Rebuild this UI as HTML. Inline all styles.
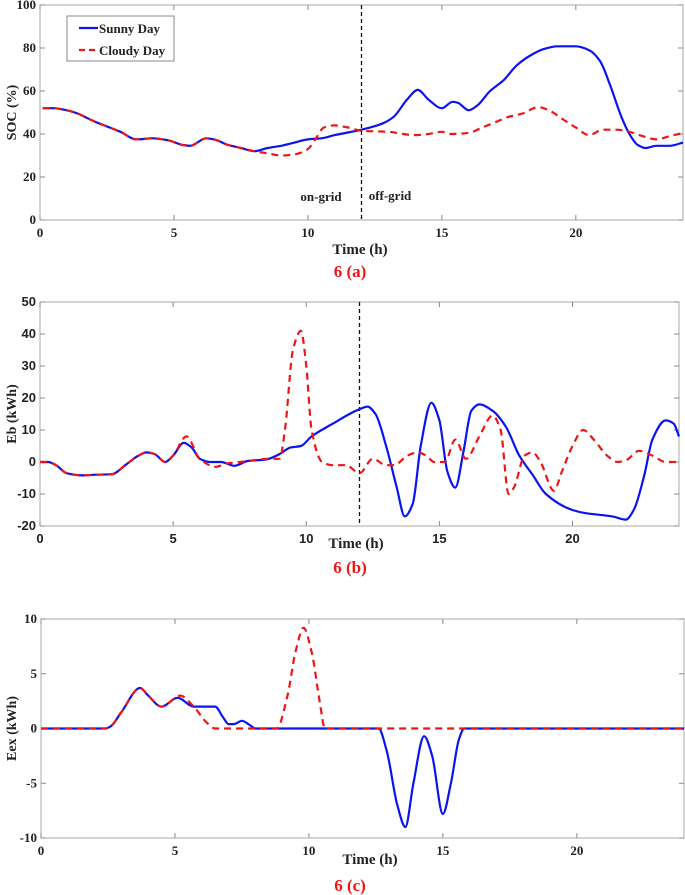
<!DOCTYPE html>
<html><head><meta charset="utf-8"><style>
body{margin:0;background:#fff;width:685px;height:895px;overflow:hidden}
svg{display:block}
text{font-family:"Liberation Serif",serif;font-weight:bold;fill:#222}
</style></head><body>
<svg id="chart" width="685" height="895" viewBox="0 0 685 895" xmlns="http://www.w3.org/2000/svg"></svg>
<script>
const socSunnyT=[0.1,0.5,1,1.3,2,3,3.6,4.2,4.8,5.3,5.6,6.2,6.5,7,7.5,8,8.5,9,9.5,10,10.5,11,12,12.8,13.2,13.7,14.1,14.5,15,15.4,15.6,16,16.3,16.8,17.3,17.8,18.3,18.8,19.3,20,20.5,20.9,21.3,21.7,22,22.3,22.6,23,23.5,24];
const socSunnyV=[52,52,51,50,46,41,37.5,38,37,35,34.5,38,37.5,35,33.5,32,33.5,34.5,36,37.5,38,39.5,42,45,48,56,60.5,56,52,55,54.5,51,53,60,65,72,76.5,79.5,80.8,80.8,79,74,62,48,40,35,33.5,34.5,34.5,36];
const socCloudyT=[0.1,0.5,1,1.3,2,3,3.6,4.2,4.8,5.3,5.6,6.2,6.5,7,7.5,8,8.5,9,9.5,10,10.3,10.6,11,11.5,12,13,14,14.5,15,15.3,16,16.5,17,17.5,18,18.6,19,19.5,20,20.5,21,21.5,22,22.5,23,23.5,24];
const socCloudyV=[52,52,51,50,46,41,37.5,38,37,35,34.5,38,37.5,35,33.5,32,31,30,30.5,33,38,43,44,43,41.5,41,39.5,40,41,40,40.5,43,45.5,48,49.5,52.5,51,47,43,39.5,42,42,41,39,37.5,39,40.5];
const ebSunnyT=[0,0.3,0.6,1,1.6,2,2.7,3.2,3.7,4,4.3,4.7,5,5.4,5.7,6,6.4,6.8,7.3,7.8,8.5,9,9.4,9.8,10.2,11,12,12.3,12.6,13,13.4,13.7,14,14.3,14.7,15,15.3,15.6,15.9,16.2,16.5,17,17.5,18,18.5,19,20,20.5,21.5,22,22.3,22.7,23,23.5,23.8,24];
const ebSunnyV=[0,0,-1,-3.5,-4.2,-4,-3.8,-1,2,3,2.5,0,2,6,4.5,1,0,0,-1.2,0.3,0.8,2.5,4.5,5,8,12,16.5,17.3,15,5,-8,-17,-13,5,18.5,13,-3,-8,3,16,18,16,11,2,-4,-10,-15,-16,-17,-18,-15,-4,7,13,12,8];
const ebCloudyT=[0,0.3,0.6,1,1.6,2,2.7,3.2,3.7,4,4.3,4.7,5,5.5,6,6.6,7,7.5,8,8.5,9,9.2,9.5,9.8,10,10.2,10.6,11,11.5,12,12.5,13,13.3,13.8,14.2,14.5,14.8,15.2,15.6,16,16.5,17,17.3,17.6,17.8,18.2,18.5,18.8,19.3,19.6,20,20.4,20.8,21.3,21.7,22,22.5,23,23.5,24];
const ebCloudyV=[0,0,-1,-3.5,-4.2,-4,-3.8,-1,2,3,2.5,0,2,8,1,-1.5,-0.5,0,0.5,1,1,10,35,41,30,10,0,-1,-1,-3.5,1,-1,-1,2,3,2,0,0,7,1,8,14.5,10,-10,-8,2,3,0,-9,-3,5,10,7,2,0,0.5,3.5,2,0,0];
const exSunnyT=[0,2.4,2.6,3,3.7,4,4.5,5.1,5.7,6.5,6.8,7,7.2,7.5,7.8,8,12.6,12.9,13.3,13.6,13.9,14.3,14.6,15,15.3,15.6,15.8,24];
const exSunnyV=[0,0,0.2,1.5,3.7,3,2,2.8,2,2,1,0.4,0.4,0.7,0.3,0,0,-2,-7,-9,-5,-0.7,-2.5,-7.8,-5,-1,0,0];
const exCloudyT=[0,2.4,2.6,3,3.7,4,4.5,5.2,5.7,6.2,6.5,8.8,9.2,9.5,9.8,10.1,10.4,10.6,24];
const exCloudyV=[0,0,0.2,1.5,3.7,3,2,3,2,0.5,0,0,3,7,9.2,7,2.5,0,0];
const xTicks=[0,5,10,15,20];
const socTicks=[0,20,40,60,80,100];
const ebTicks=[-20,-10,0,10,20,30,40,50];
const exTicks=[-10,-5,0,5,10];

const svg=document.getElementById('chart');
const NS='http://www.w3.org/2000/svg';
function mk(tag,attrs,parent){const e=document.createElementNS(NS,tag);for(const k in attrs)e.setAttribute(k,attrs[k]);(parent||svg).appendChild(e);return e;}
// monotone cubic (Fritsch-Carlson) in pixel space
function smooth(p){const n=p.length,dx=[],s=[],m=new Array(n);
 for(let i=0;i<n-1;i++){dx[i]=p[i+1][0]-p[i][0];s[i]=(p[i+1][1]-p[i][1])/dx[i];}
 m[0]=s[0];m[n-1]=s[n-2];
 for(let i=1;i<n-1;i++){if(s[i-1]*s[i]<=0)m[i]=0;else{const w1=2*dx[i]+dx[i-1],w2=dx[i]+2*dx[i-1];m[i]=(w1+w2)/(w1/s[i-1]+w2/s[i]);}}
 let d='M'+p[0][0].toFixed(1)+','+p[0][1].toFixed(1);
 for(let i=0;i<n-1;i++){const h=dx[i]/3;
  d+=' C'+(p[i][0]+h).toFixed(1)+','+(p[i][1]+m[i]*h).toFixed(1)+' '+(p[i+1][0]-h).toFixed(1)+','+(p[i+1][1]-m[i+1]*h).toFixed(1)+' '+p[i+1][0].toFixed(1)+','+p[i+1][1].toFixed(1);}
 return d;}
function panel(o){
 const g=mk('g',{});
 
 
 const X=t=>o.x0+(o.x1-o.x0)*t/24;
 const Y=v=>o.yb+(o.yt-o.yb)*(v-o.ymin)/(o.ymax-o.ymin);
 const box=mk('rect',{x:o.x0,y:o.yt,width:o.x1-o.x0,height:o.yb-o.yt,fill:'#fff',stroke:'#aaa','stroke-width':1},g);
 
 
 xTicks.forEach(t=>{const x=X(t);
  mk('line',{x1:x,x2:x,y1:o.yb,y2:o.yb-5,stroke:'#888'},g);mk('line',{x1:x,x2:x,y1:o.yt,y2:o.yt+5,stroke:'#888'},g);
  const tx=mk('text',{x:x,y:o.yb+17,'text-anchor':'middle','font-size':13,style:o.sans?'font-family:"Liberation Sans",sans-serif':''},g);tx.textContent=t;
  
  });
 o.ticks.forEach(v=>{const y=Y(v);
  mk('line',{x1:o.x0,x2:o.x0+5,y1:y,y2:y,stroke:'#888'},g);mk('line',{x1:o.x1,x2:o.x1-5,y1:y,y2:y,stroke:'#888'},g);
  const tx=mk('text',{x:o.x0-4,y:y+4,'text-anchor':'end','font-size':13,style:o.sans?'font-family:"Liberation Sans",sans-serif':''},g);tx.textContent=v;
  
  });
 if(o.vline){const vl=mk('line',{x1:X(12),x2:X(12),y1:o.yt,y2:o.yb,stroke:'#111','stroke-width':1.3,'stroke-dasharray':'4,3'},g);
  
  }
 const mp=(T,V)=>T.map((t,i)=>[X(t),Y(V[i])]);
 const s=mk('path',{d:smooth(mp(o.sT,o.sV)),fill:'none',stroke:'#0a14f0','stroke-width':2.2},g);
 
 
 const c=mk('path',{d:smooth(mp(o.cT,o.cV)),fill:'none',stroke:'#f01414','stroke-width':2.2,'stroke-dasharray':'7,5'},g);
 
 
 const yl=mk('text',{x:0,y:0,transform:'translate('+o.ylx+','+((o.yt+o.yb)/2)+') rotate(-90)','text-anchor':'middle','font-size':14},g);yl.textContent=o.ylabel;
 
 
 const xl=mk('text',{x:o.xlx,y:o.xly,'text-anchor':'middle','font-size':15},g);xl.textContent='Time (h)';
 
 
 const cap=mk('text',{x:350,y:o.capy,'text-anchor':'middle','font-size':17,fill:'#f01414',style:'fill:#f01414'},g);cap.textContent=o.cap;
 
 
 return {X,Y,g};
}
const a=panel({name:'soc-panel',x0:40,x1:683,yt:5,yb:220,ymin:0,ymax:100,ticks:socTicks,sT:socSunnyT,sV:socSunnyV,cT:socCloudyT,cV:socCloudyV,vline:true,ylabel:'SOC (%)',ylx:16,xlx:360,xly:254,cap:'6 (a)',capy:277});
const b=panel({name:'eb-panel',x0:40,x1:679,yt:302,yb:526,ymin:-20,ymax:50,ticks:ebTicks,sT:ebSunnyT,sV:ebSunnyV,cT:ebCloudyT,cV:ebCloudyV,vline:true,sans:true,ylabel:'Eb (kWh)',ylx:16,xlx:356,xly:548,cap:'6 (b)',capy:573});
const c=panel({name:'eex-panel',x0:41,x1:684,yt:619,yb:838,ymin:-10,ymax:10,ticks:exTicks,sT:exSunnyT,sV:exSunnyV,cT:exCloudyT,cV:exCloudyV,vline:false,ylabel:'Eex (kWh)',ylx:16,xlx:370,xly:864,cap:'6 (c)',capy:891});
const on=mk('text',{x:321,y:201,'text-anchor':'middle','font-size':13});on.textContent='on-grid';


const off=mk('text',{x:390,y:200,'text-anchor':'middle','font-size':13});off.textContent='off-grid';


const lg=mk('g',{});


mk('rect',{x:67,y:16,width:107,height:45,fill:'#fff',stroke:'#888'},lg);
mk('line',{x1:79,x2:98,y1:28,y2:28,stroke:'#0a14f0','stroke-width':2.2},lg);
mk('line',{x1:79,x2:98,y1:50,y2:50,stroke:'#f01414','stroke-width':2.2,'stroke-dasharray':'6,4'},lg);
const l1=mk('text',{x:99,y:33,'font-size':13},lg);l1.textContent='Sunny Day';


const l2=mk('text',{x:99,y:55,'font-size':13},lg);l2.textContent='Cloudy Day';


</script>
</body></html>
